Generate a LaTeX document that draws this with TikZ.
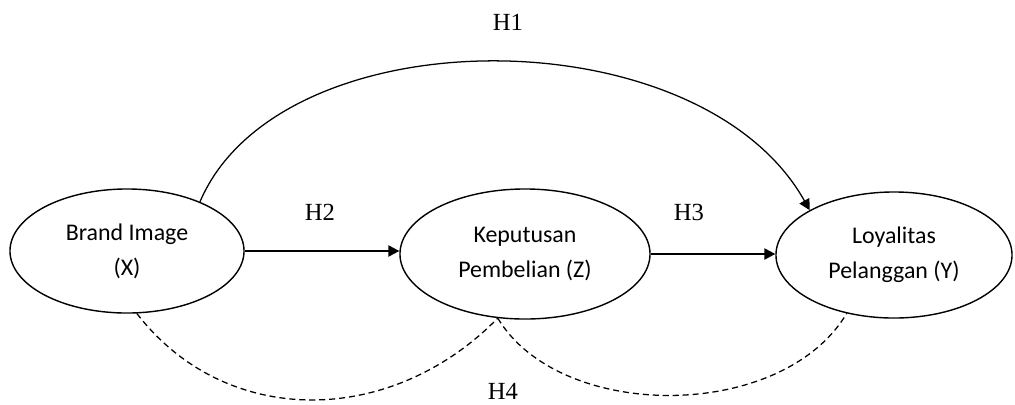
\documentclass[tikz,border=0pt]{standalone}
\usepackage{fontspec}
\setmainfont{Liberation Serif}
\newfontfamily\calibrifont{Carlito}
\usetikzlibrary{shapes.geometric,arrows.meta}

\begin{document}
\begin{tikzpicture}[
    x=0.025cm, y=-0.025cm,
    var/.style={ellipse, draw, line width=1pt, inner sep=0pt, align=center, font=\calibrifont\fontsize{17}{25}\selectfont},
    hyp/.style={font=\fontsize{17.5}{20}\selectfont},
    arrow/.style={-{Triangle[length=0.27cm, width=0.28cm]}, line width=0.9pt},
    link/.style={line width=0.9pt, dash pattern=on 4.3pt off 2.8pt}
]
\useasboundingbox (0,0) rectangle (1015,404);

\node[var, minimum width=5.85cm, minimum height=3.1cm] (bi) at (127,251) {Brand Image\\(X)};
\node[var, minimum width=6.25cm, minimum height=3.25cm] (kp) at (525,254) {Keputusan\\Pembelian (Z)};
\node[var, minimum width=5.9cm, minimum height=3.15cm] (lp) at (894,255) {Loyalitas\\Pelanggan (Y)};

\node[hyp] (h1) at (508,22) {H1};
\node[hyp] (h2) at (320,212) {H2};
\node[hyp] (h3) at (689,212) {H3};
\node[hyp] (h4) at (503,391) {H4};

\draw[arrow] (bi.34) .. controls (280,14) and (700,14) .. (lp.152);
\draw[arrow] (bi.east) -- (bi.east -| kp.west);
\draw[arrow] (kp.east) -- (kp.east -| lp.west);

\draw[link] (bi.279) .. controls (225,428) and (390,428) .. (kp.247);
\draw[link] (kp.247) .. controls (560,422) and (782,422) .. (lp.231);
\end{tikzpicture}
\end{document}
